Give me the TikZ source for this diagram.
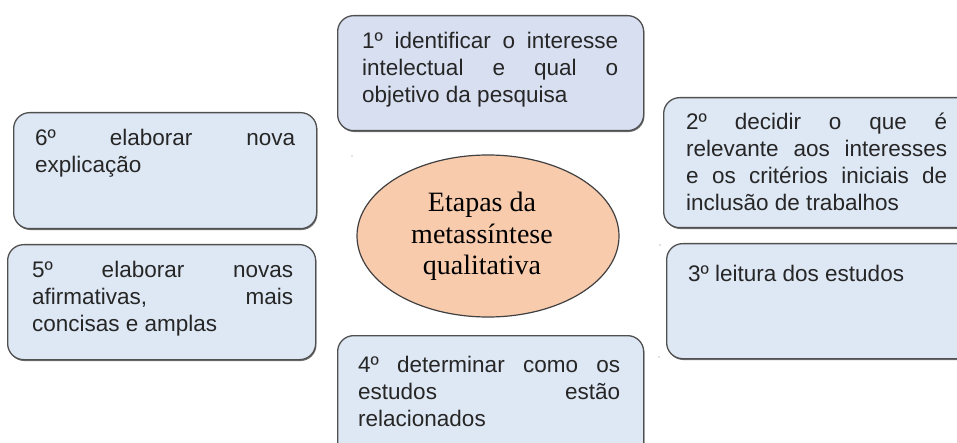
\documentclass[tikz,border=0pt]{standalone}
\usepackage{fontspec}
\setmainfont{Liberation Sans}
\newfontfamily\serifft{Liberation Serif}
\usetikzlibrary{shadows,shapes.geometric}
\definecolor{boxfill}{HTML}{DEE8F4}
\definecolor{boxfilltop}{HTML}{D7DFF1}
\definecolor{boxline}{HTML}{505050}
\definecolor{peach}{HTML}{F8CBAD}
\newcommand{\jl}[1]{\makebox[\linewidth][s]{#1}\par}
\begin{document}
\begin{tikzpicture}[x=1pt,y=-1pt,
  stepbox/.style={draw=boxline, line width=1.3pt, rounded corners=16pt, fill=boxfill,
    drop shadow={shadow xshift=0.8pt, shadow yshift=-1.4pt, fill=black!55, opacity=1},
    anchor=north west, inner sep=0pt},
  steptext/.style={anchor=base west, inner sep=0pt, text=black!85,
    font=\fontsize{22.5}{27}\selectfont},
  dot/.style={circle, fill=black!50, inner sep=0pt, minimum size=1.4pt}]
\useasboundingbox (0,0) rectangle (957,443);
\clip (0,0) rectangle (957,443);
% boxes
\node[stepbox, fill=boxfilltop, minimum width=306pt, minimum height=115pt] (b1) at (337,15) {};
\node[stepbox, minimum width=312pt, minimum height=130pt] (b2) at (663,97) {};
\node[stepbox, minimum width=312pt, minimum height=115pt] (b3) at (666,243) {};
\node[stepbox, minimum width=306pt, minimum height=130pt] (b4) at (337,335) {};
\node[stepbox, minimum width=308pt, minimum height=115pt] (b5) at (7,244) {};
\node[stepbox, minimum width=303pt, minimum height=116pt] (b6) at (13,112) {};
% texts
\node[steptext] (t1) at (362,49) {\parbox[t]{256pt}{\jl{1º identificar o interesse}\jl{intelectual e qual o}objetivo da pesquisa}};
\node[steptext] (t2) at (686,130) {\parbox[t]{261pt}{\jl{2º decidir o que é}\jl{relevante aos interesses}\jl{e os critérios iniciais de}inclusão de trabalhos}};
\node[steptext] (t3) at (688,282) {\parbox[t]{261pt}{3º leitura dos estudos}};
\node[steptext] (t4) at (358,372) {\parbox[t]{262pt}{\jl{4º determinar como os}\jl{estudos estão}relacionados}};
\node[steptext] (t5) at (32,277) {\parbox[t]{261pt}{\jl{5º elaborar novas}\jl{afirmativas, mais}concisas e amplas}};
\node[steptext] (t6) at (35,146) {\parbox[t]{260pt}{\jl{6º elaborar nova}explicação}};
% centre ellipse
\node[ellipse, draw=black!75, line width=1.2pt, fill=peach, minimum width=262pt, minimum height=162pt, inner sep=0pt] (c) at (488,236) {};
\node[anchor=base, inner sep=0pt, font=\serifft\fontsize{28}{31.5}\selectfont] (ct) at (482,212) {\parbox[t]{220pt}{\centering Etapas da\par metassíntese\par qualitativa}};
% stray dots
\node[dot] (d1) at (352,156) {};
\node[dot] (d2) at (660,245) {};
\node[dot] (d3) at (659,357) {};
\end{tikzpicture}
\end{document}
